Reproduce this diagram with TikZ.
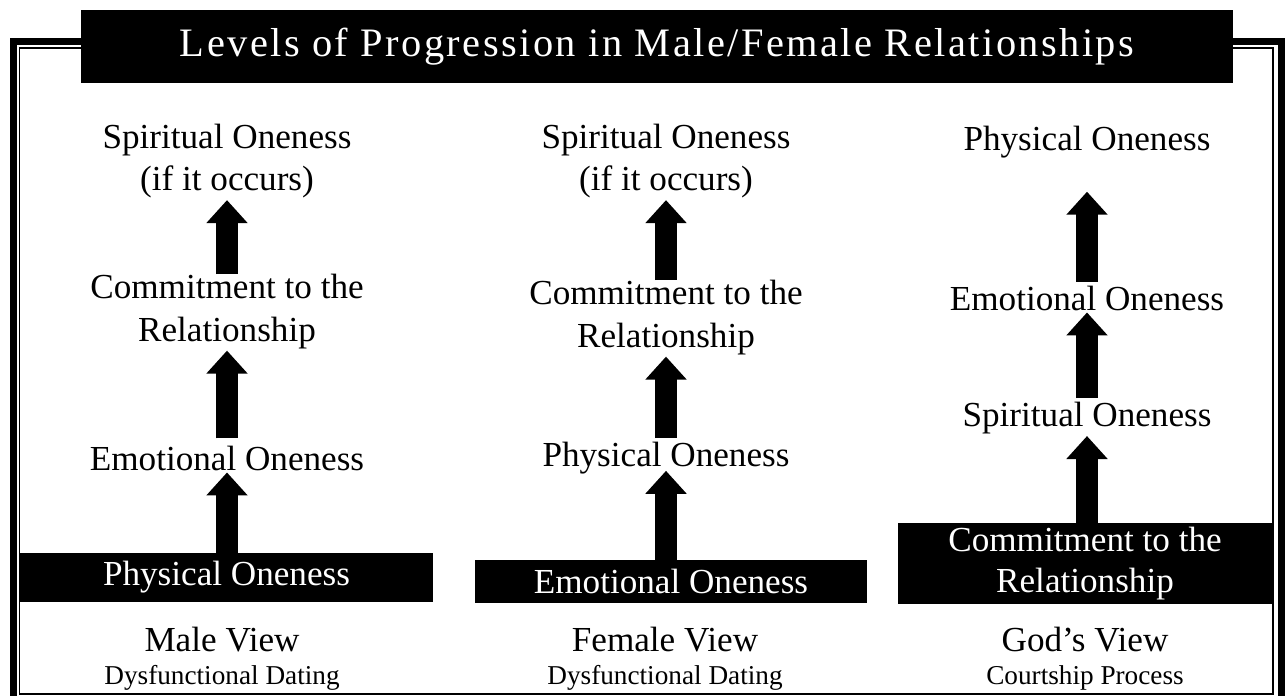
\documentclass[tikz,border=0pt]{standalone}
\usepackage{fontspec}
\setmainfont{Liberation Serif}
\usetikzlibrary{arrows.meta,positioning}
\tikzset{
  lbl/.style={font=\fontsize{20}{24}\selectfont, align=center, inner sep=0pt},
  sublbl/.style={font=\fontsize{15.5}{18}\selectfont, inner sep=0pt},
  barlbl/.style={fill=black, text=white, font=\fontsize{20}{23}\selectfont, align=center, inner sep=0pt},
  uparrow/.style={line width=0.44cm, -{Triangle[length=0.46cm,width=0.8cm]}, shorten >=1pt},
}
\begin{document}
\begin{tikzpicture}[x=0.02cm,y=-0.02cm]
	\useasboundingbox (0,0) rectangle (1285,696);
	% frame
	\draw[line width=0.14cm] (13.5,705) -- (13.5,41.5) -- (1281,41.5) -- (1281,705);
	\draw[line width=0.8pt] (19.5,48) rectangle (1273,694);
	% title
	\node[barlbl, font=\fontsize{23}{26}\selectfont\addfontfeature{LetterSpace=6}, minimum width=23.04cm, minimum height=1.46cm] (title) at (657,46.5) {Levels of Progression in Male/Female Relationships};
	% male view
	\node[lbl] (spi1) at (227,161) {Spiritual Oneness\\(if it occurs)};
	\node[lbl] (com1) at (227,311.5) {Commitment to the\\Relationship};
	\node[lbl] (emo1) at (227,458) {Emotional Oneness};
	\node[barlbl, minimum width=8.26cm, minimum height=0.98cm] (bar1) at (226.5,577.5) {Physical Oneness};
	\node[lbl] (view1) at (222,640) {Male View};
	\node[sublbl] (sub1) at (222,678) {Dysfunctional Dating};
	\draw[uparrow] (bar1.north -| emo1) -- (emo1);
	\draw[uparrow, shorten <=4pt] (emo1) -- (com1);
	\draw[uparrow] (com1) -- (spi1);
	% female view
	\node[lbl] (spi2) at (666,161) {Spiritual Oneness\\(if it occurs)};
	\node[lbl] (com2) at (666,317.5) {Commitment to the\\Relationship};
	\node[lbl] (phy2) at (666,458) {Physical Oneness};
	\node[barlbl, minimum width=7.84cm, minimum height=0.86cm] (bar2) at (671,581.5) {Emotional Oneness};
	\node[lbl] (view2) at (665,640) {Female View};
	\node[sublbl] (sub2) at (665,678) {Dysfunctional Dating};
	\draw[uparrow, shorten >=-2pt] (bar2.north -| phy2) -- (phy2);
	\draw[uparrow, shorten <=2pt] (phy2) -- (com2);
	\draw[uparrow] (com2) -- (spi2);
	% god's view
	\node[lbl] (phy3) at (1087,142) {Physical Oneness};
	\node[lbl] (emo3) at (1087,298) {Emotional Oneness};
	\node[lbl] (spi3) at (1087,418) {Spiritual Oneness};
	\node[barlbl, minimum width=7.48cm, minimum height=1.62cm] (bar3) at (1085,563.5) {Commitment to the\\Relationship};
	\node[lbl] (view3) at (1085,640) {God’s View};
	\node[sublbl] (sub3) at (1085,678) {Courtship Process};
	\draw[uparrow] (bar3.north -| spi3) -- (spi3);
	\draw[uparrow, shorten <=2pt] (spi3) -- (emo3);
	\draw[uparrow, shorten <=2pt, shorten >=19pt] (emo3) -- (phy3);
\end{tikzpicture}
\end{document}
